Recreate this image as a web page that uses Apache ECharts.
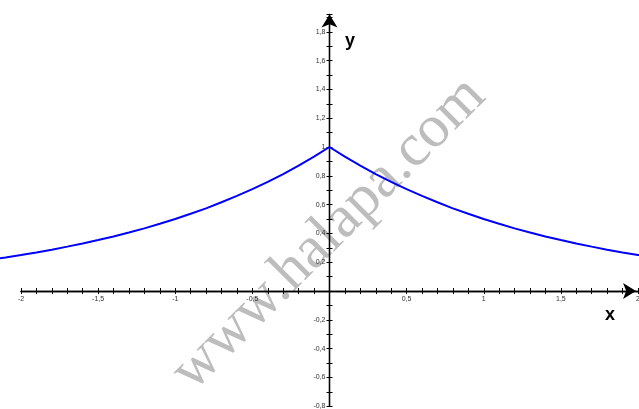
<!DOCTYPE html>
<html>
<head>
<meta charset="utf-8">
<script src="https://cdn.jsdelivr.net/npm/echarts@6/dist/echarts.min.js"></script>
<style>
  html, body { margin: 0; padding: 0; background: #fff; }
  #chart { width: 639px; height: 409px; }
</style>
</head>
<body>
<div id="chart"></div>
<script>
// Sample points of the curve y = f(x), symmetric about the y axis
const xValues = [-2.14, -2.1, -2.0, -1.9, -1.8, -1.7, -1.6, -1.5, -1.4, -1.3, -1.2, -1.1,
  -1.0, -0.9, -0.8, -0.7, -0.6, -0.5, -0.4, -0.3, -0.2, -0.1, 0.0,
  0.1, 0.2, 0.3, 0.4, 0.5, 0.6, 0.7, 0.8, 0.9, 1.0,
  1.1, 1.2, 1.3, 1.4, 1.5, 1.6, 1.7, 1.8, 1.9, 2.0, 2.01];
const yValues = [0.227, 0.233, 0.250, 0.268, 0.287, 0.308, 0.330, 0.354, 0.379, 0.406, 0.435, 0.467,
  0.500, 0.536, 0.574, 0.616, 0.660, 0.707, 0.758, 0.812, 0.871, 0.933, 1.000,
  0.933, 0.871, 0.812, 0.758, 0.707, 0.660, 0.616, 0.574, 0.536, 0.500,
  0.467, 0.435, 0.406, 0.379, 0.354, 0.330, 0.308, 0.287, 0.268, 0.250, 0.249];

// Visible window of the plane and the ticked part of each axis
const viewX = [-2.136, 2.007];
const viewY = [-0.8, 1.92];
const xRange = [-2.0, 2.0];
const yRange = [-0.8, 1.92];
const xLabelStep = 5;   // in tenths: labels every 0.5
const yLabelStep = 2;   // in tenths: labels every 0.2

const points = xValues.map((x, i) => [x, yValues[i]]);

function tickLabel(step) {
  return function (v) {
    const r = Math.round(v * 10);
    if (r === 0 || r % step !== 0) return '';
    return String(r / 10).replace('.', ',');
  };
}

const W = 639, H = 409;
const TOP = 14.5, BOTTOM = 2.8, LEFT = 21, RIGHT = 1;
// pixel position of the origin
const ox = LEFT + (0 - xRange[0]) / (xRange[1] - xRange[0]) * (W - LEFT - RIGHT);
const oy = TOP + (yRange[1] - 0) / (yRange[1] - yRange[0]) * (H - TOP - BOTTOM);

const labelStyle = { fontSize: 7, color: '#333', fontFamily: 'Liberation Sans, Arial, sans-serif' };
const axisLineStyle = { color: '#000', width: 1.3 };
const tickStyle = { color: '#000', width: 1 };
const hidden = (gridIndex, extra) => Object.assign({ type: 'value', gridIndex, show: false }, extra || {});

const grids = [
  // 0: plot area for the curve (whole window)
  { left: 0, right: 0, top: TOP, bottom: BOTTOM },
  // 1: x axis, ticks below, labels
  { left: LEFT, right: RIGHT, top: TOP, bottom: H - oy },
  // 2: x axis, ticks above
  { left: LEFT, right: RIGHT, top: oy, bottom: 0 },
  // 3: y axis, ticks left, labels
  { left: ox, right: 0, top: TOP, bottom: BOTTOM },
  // 4: y axis, ticks right
  { left: 0, right: W - ox, top: TOP, bottom: BOTTOM }
].map(g => Object.assign(g, { containLabel: false, outerBoundsMode: 'none' }));

function xAxisDef(gridIndex, pos, showLabel, arrow) {
  return {
    type: 'value', gridIndex, position: pos, min: xRange[0], max: xRange[1], interval: 0.1,
    axisLine: { onZero: false, lineStyle: axisLineStyle,
      symbol: arrow ? ['none', 'arrow'] : 'none', symbolSize: [12, 13], symbolOffset: [0, -2] },
    axisTick: { show: true, inside: false, length: 3, lineStyle: tickStyle },
    axisLabel: { show: showLabel, margin: 5, formatter: tickLabel(xLabelStep),
      showMinLabel: true, showMaxLabel: true, hideOverlap: false, ...labelStyle },
    splitLine: { show: false }
  };
}
function yAxisDef(gridIndex, pos, showLabel, arrow) {
  return {
    type: 'value', gridIndex, position: pos, min: yRange[0], max: yRange[1], interval: 0.1,
    axisLine: { onZero: false, lineStyle: axisLineStyle,
      symbol: arrow ? ['none', 'arrow'] : 'none', symbolSize: [12, 13], symbolOffset: [0, 0] },
    axisTick: { show: true, inside: false, length: 3, lineStyle: tickStyle },
    axisLabel: { show: showLabel, margin: 4, formatter: tickLabel(yLabelStep),
      showMinLabel: true, showMaxLabel: true, hideOverlap: false, ...labelStyle },
    splitLine: { show: false }
  };
}

const chart = echarts.init(document.getElementById('chart'), null, { renderer: 'canvas' });
chart.setOption({
  animation: false,
  backgroundColor: '#fff',
  grid: grids,
  xAxis: [
    hidden(0, { min: viewX[0], max: viewX[1] }),
    xAxisDef(1, 'bottom', true, true),
    xAxisDef(2, 'top', false, false),
    hidden(3, { min: 0, max: 1 }),
    hidden(4, { min: 0, max: 1 })
  ],
  yAxis: [
    hidden(0, { min: viewY[0], max: viewY[1] }),
    hidden(1, { min: 0, max: 1 }),
    hidden(2, { min: 0, max: 1 }),
    yAxisDef(3, 'left', true, true),
    yAxisDef(4, 'right', false, false)
  ],
  graphic: [
    {
      type: 'text', z: -10, x: 329, y: 234, rotation: Math.PI / 4,
      style: {
        text: 'www.halapa.com', fill: '#bdbdbd',
        font: '60px "Liberation Serif", "Times New Roman", serif',
        align: 'center', verticalAlign: 'middle'
      }
    },
    {
      type: 'text', z: 10, x: 610, y: 315,
      style: { text: 'x', fill: '#000', font: 'bold 18px "Liberation Sans", Arial, sans-serif',
        align: 'center', verticalAlign: 'middle' }
    },
    {
      type: 'text', z: 10, x: 350, y: 41,
      style: { text: 'y', fill: '#000', font: 'bold 18px "Liberation Sans", Arial, sans-serif',
        align: 'center', verticalAlign: 'middle' }
    }
  ],
  series: [{
    type: 'line',
    xAxisIndex: 0,
    yAxisIndex: 0,
    data: points,
    showSymbol: false,
    smooth: false,
    lineStyle: { color: '#0000ff', width: 2 },
    z: 3
  }]
});
</script>
</body>
</html>
